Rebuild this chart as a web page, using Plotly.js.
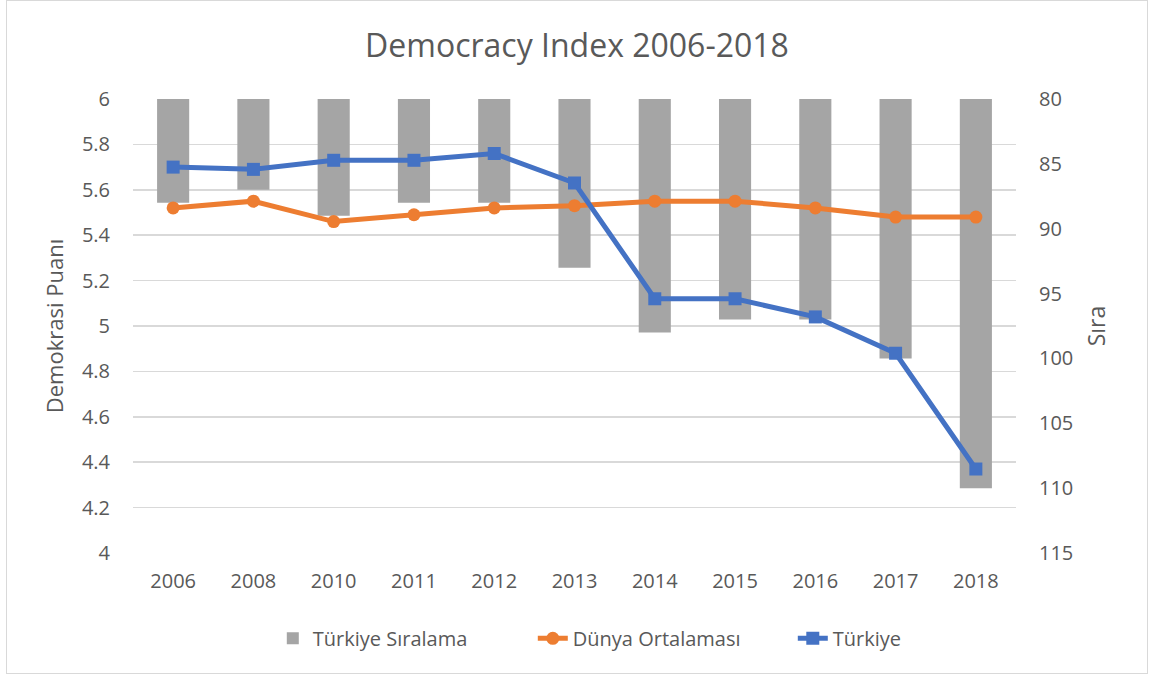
<!DOCTYPE html>
<html>
<head>
<meta charset="utf-8">
<script src="https://cdn.plot.ly/plotly-3.0.1.min.js"></script>
<style>
    body { margin: 0; background: #fff; }
    #chart { position: absolute; left: 6px; top: 0px; width: 1140px; height: 672px; border: 1px solid #d9d9d9; }
</style>
</head>
<body>
<div id="chart"></div>
<script>
// Yillar
var years = ['2006', '2008', '2010', '2011', '2012', '2013', '2014', '2015', '2016', '2017', '2018'];
// Türkiye siralamasi (sag eksen)
var turkeyRank = [88, 87, 89, 88, 88, 93, 98, 97, 97, 100, 110];
// Dünya ortalamasi puani
var worldAvg = [5.52, 5.55, 5.46, 5.49, 5.52, 5.53, 5.55, 5.55, 5.52, 5.48, 5.48];
// Türkiye puani
var turkeyScore = [5.70, 5.69, 5.73, 5.73, 5.76, 5.63, 5.12, 5.12, 5.04, 4.88, 4.37];

var textColor = '#595959';
var fontFamily = '"Open Sans", sans-serif';

var data = [
    {
        x: years,
        y: turkeyRank,
        type: 'bar',
        name: 'Türkiye Sıralama',
        width: 0.4,
        marker: { color: '#a5a5a5' },
        yaxis: 'y'
    },
    {
        x: years,
        y: worldAvg,
        type: 'scatter',
        mode: 'lines+markers',
        name: 'Dünya Ortalaması',
        line: { color: '#ed7d31', width: 5 },
        marker: { symbol: 'circle', size: 13, color: '#ed7d31' },
        yaxis: 'y2'
    },
    {
        x: years,
        y: turkeyScore,
        type: 'scatter',
        mode: 'lines+markers',
        name: 'Türkiye',
        line: { color: '#4472c4', width: 5 },
        marker: { symbol: 'square', size: 13, color: '#4472c4' },
        yaxis: 'y2'
    }
];

var layout = {
    width: 1140,
    height: 672,
    margin: { l: 126, r: 131, t: 98, b: 120 },
    paper_bgcolor: '#ffffff',
    plot_bgcolor: '#ffffff',
    font: { family: fontFamily, color: textColor, size: 20 },
    title: {
        text: 'Democracy Index 2006-2018',
        font: { size: 32, color: textColor, family: fontFamily },
        x: 0.5,
        xanchor: 'center',
        y: 0.933,
        yanchor: 'middle'
    },
    showlegend: true,
    legend: {
        orientation: 'h',
        x: 0.6,
        xanchor: 'center',
        y: -0.145,
        yanchor: 'top',
        font: { size: 20, color: textColor },
        traceorder: 'normal',
        entrywidth: 215,
        entrywidthmode: 'pixels'
    },
    xaxis: {
        type: 'category',
        range: [-0.5, 10.5],
        showgrid: false,
        zeroline: false,
        showline: false,
        ticks: '',
        ticklabelstandoff: 14,
        tickfont: { size: 20, color: textColor }
    },
    // sag eksen: siralama (ters)
    yaxis: {
        side: 'right',
        range: [115, 80],
        tickvals: [80, 85, 90, 95, 100, 105, 110, 115],
        showgrid: false,
        zeroline: false,
        showline: false,
        ticks: '',
        ticklabelstandoff: 22,
        tickfont: { size: 20, color: textColor },
        title: { text: 'Sıra', font: { size: 23, color: textColor }, standoff: 16 }
    },
    // sol eksen: puan
    yaxis2: {
        overlaying: 'y',
        side: 'left',
        range: [4, 6],
        dtick: 0.2,
        showgrid: true,
        gridcolor: '#d9d9d9',
        gridwidth: 1.5,
        zeroline: false,
        showline: false,
        ticks: '',
        ticklabelstandoff: 22,
        tickfont: { size: 20, color: textColor },
        title: { text: 'Demokrasi Puanı', font: { size: 22, color: textColor }, standoff: 12 }
    }
};

var config = { staticPlot: true };

Plotly.newPlot('chart', data, layout, config);
</script>
</body>
</html>
